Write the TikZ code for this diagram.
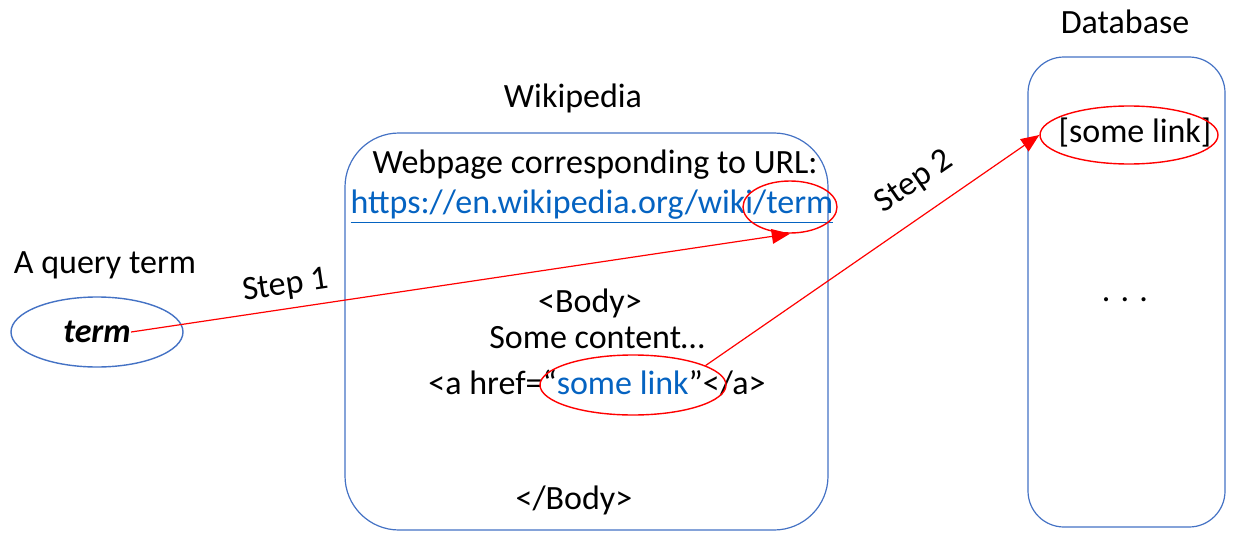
\documentclass[tikz,border=0pt]{standalone}
\usepackage{fontspec}
\setmainfont{Carlito}
\usepackage{tikz}
\usetikzlibrary{positioning, shapes.geometric, arrows.meta}
\definecolor{boxBlue}{HTML}{4472C4}
\definecolor{linkBlue}{HTML}{0563C1}
\definecolor{markRed}{HTML}{FF0000}

\begin{document}
\begin{tikzpicture}[
  x=0.5pt, y=-0.5pt,
  >={Triangle[length=3.2mm, width=2.6mm]},
  flow/.style={->, draw=markRed, line width=0.6pt},
  frame/.style={draw=boxBlue, line width=0.6pt},
  ring/.style={ellipse, draw=markRed, line width=0.7pt, inner sep=0pt},
  textnode/.style={inner sep=0pt, align=center},
  every node/.style={font=\fontsize{17}{20}\selectfont}
]
  \useasboundingbox (0,0) rectangle (1240,540);

  % boxes
  \draw[frame, rounded corners=27pt] (345,133) rectangle (828,530);
  \draw[frame, rounded corners=18pt] (1028,57) rectangle (1225,527);

  % titles
  \node[textnode] (wikiTitle) at (573,98) {Wikipedia};
  \node[textnode] (dbTitle) at (1125,22) {Database};
  \node[textnode] (queryTitle) at (105,265) {A query term};

  % query term
  \node[ring, draw=boxBlue, minimum width=86pt, minimum height=35pt] (termRing) at (97,332) {};
  \node[textnode] (termText) at (97,332) {\textbf{\textit{term}}};

  % webpage content
  \node[textnode] (pageHead) at (595,165) {Webpage corresponding to URL:};
  \node[textnode, text=linkBlue] (pageUrl) at (592,207) {\underline{https://en.wikipedia.org/wiki/term}};
  \node[ring, minimum width=47pt, minimum height=26pt] (urlRing) at (790,207) {};
  \node[textnode] (bodyOpen) at (590,303) {<Body>};
  \node[textnode] (bodyText) at (597,338) {Some content…};
  \node[textnode] (anchorTag) at (597,383) {<a href=“\textcolor{linkBlue}{some link}”</a>};
  \node[ring, minimum width=93pt, minimum height=30pt] (linkRing) at (633,385) {};
  \node[textnode] (bodyClose) at (574,500) {</Body>};

  % database content
  \node[textnode] (dbItem) at (1135,133) {[some link]};
  \node[ring, minimum width=89pt, minimum height=29pt] (dbRing) at (1129,135) {};
  \node[textnode] (dbDots) at (1125,300) {.\hspace{0.3em}.\hspace{0.3em}.};

  % steps
  \draw[flow] (termText.east) -- (urlRing.south)
    node[pos=0.24, above=4pt, sloped, textnode] (stepOne) {Step 1};
  \draw[flow] (linkRing.15) -- (dbRing.west)
    node[pos=0.68, above=9pt, sloped, textnode] (stepTwo) {Step 2};
\end{tikzpicture}
\end{document}
